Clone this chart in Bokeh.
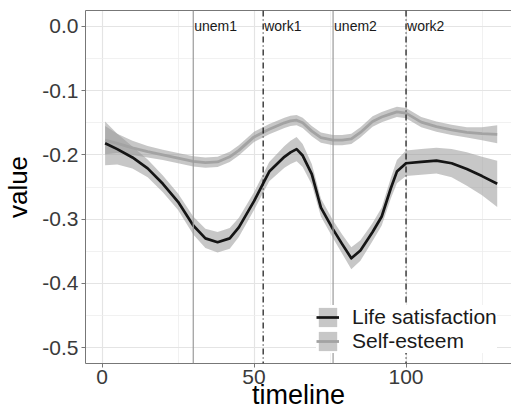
from bokeh.plotting import figure
from bokeh.models import (ColumnDataSource, FixedTicker, LinearAxis, Span, Legend,
                          LegendItem, Range1d)
from bokeh.core.properties import value
from bokeh.embed import file_html
from bokeh.resources import INLINE

# ---- data ----
timeline = [1, 5, 10, 15, 20, 25, 30, 34, 38, 42, 45, 50, 55, 60, 62, 64, 66, 69, 72,
            76, 79, 82, 85, 89, 92, 95, 97, 100, 105, 110, 115, 120, 125, 130]
life_sat = [-0.182, -0.191, -0.204, -0.221, -0.245, -0.273, -0.310, -0.330, -0.336,
            -0.330, -0.313, -0.272, -0.226, -0.203, -0.196, -0.191, -0.201, -0.230,
            -0.282, -0.316, -0.339, -0.361, -0.349, -0.320, -0.296, -0.252, -0.226,
            -0.213, -0.211, -0.209, -0.213, -0.222, -0.233, -0.245]
life_sat_se = [0.034, 0.024, 0.017, 0.014, 0.013, 0.013, 0.014, 0.015, 0.016, 0.016,
               0.015, 0.014, 0.015, 0.017, 0.018, 0.019, 0.018, 0.016, 0.014, 0.014,
               0.015, 0.017, 0.016, 0.014, 0.014, 0.016, 0.018, 0.020, 0.020, 0.020,
               0.022, 0.026, 0.030, 0.036]
self_est = [-0.177, -0.182, -0.189, -0.195, -0.200, -0.205, -0.210, -0.212, -0.211,
            -0.203, -0.193, -0.172, -0.160, -0.150, -0.147, -0.146, -0.150, -0.163,
            -0.173, -0.177, -0.177, -0.175, -0.165, -0.148, -0.141, -0.136, -0.133,
            -0.135, -0.149, -0.156, -0.161, -0.165, -0.167, -0.168]
self_est_se = [0.022, 0.015, 0.011, 0.009, 0.008, 0.008, 0.008, 0.008, 0.008, 0.008,
               0.008, 0.008, 0.008, 0.008, 0.008, 0.008, 0.008, 0.008, 0.008, 0.008,
               0.008, 0.008, 0.008, 0.008, 0.008, 0.008, 0.008, 0.008, 0.008, 0.008,
               0.008, 0.008, 0.010, 0.014]
series_names = ["Life satisfaction", "Self-esteem"]

event_t = [30, 53, 76, 100]
event_labels = ["unem1", "work1", "unem2", "work2"]
event_kind = ["unem", "work", "unem", "work"]

x_ticks = [0, 50, 100]
x_minor = [25, 75, 125]
y_ticks = [0.0, -0.1, -0.2, -0.3, -0.4, -0.5]
y_tick_labels = ["0.0", "-0.1", "-0.2", "-0.3", "-0.4", "-0.5"]
y_minor = [-0.05, -0.15, -0.25, -0.35, -0.45]

FONT = "Liberation Sans"

src_ls = ColumnDataSource(dict(
    t=timeline, v=life_sat,
    lo=[a - b for a, b in zip(life_sat, life_sat_se)],
    hi=[a + b for a, b in zip(life_sat, life_sat_se)]))
src_se = ColumnDataSource(dict(
    t=timeline, v=self_est,
    lo=[a - b for a, b in zip(self_est, self_est_se)],
    hi=[a + b for a, b in zip(self_est, self_est_se)]))

p = figure(width=511, height=418, output_backend="svg", toolbar_location=None,
           x_range=Range1d(-5.45, 134.7), y_range=Range1d(-0.5249, 0.0249),
           min_border_left=83, min_border_top=10, min_border_bottom=55,
           min_border_right=0)
p.outline_line_color = None
p.background_fill_color = "white"
p.border_fill_color = "white"

# grid
for g in (p.xgrid, p.ygrid):
    g.grid_line_color = "#E4E4E4"
    g.grid_line_width = 1.2
    g.minor_grid_line_color = "#EEEEEE"
    g.minor_grid_line_width = 0.8

p.xaxis.ticker = FixedTicker(ticks=x_ticks, minor_ticks=x_minor)
p.yaxis.ticker = FixedTicker(ticks=y_ticks, minor_ticks=y_minor)
p.xgrid.ticker = FixedTicker(ticks=x_ticks, minor_ticks=x_minor)
p.ygrid.ticker = FixedTicker(ticks=y_ticks, minor_ticks=y_minor)
p.yaxis.major_label_overrides = {t: l for t, l in zip(y_ticks, y_tick_labels)}

for ax in (p.xaxis[0], p.yaxis[0]):
    ax.axis_line_color = "#777777"
    ax.axis_line_width = 1
    ax.major_tick_line_color = "#777777"
    ax.major_tick_out = 4
    ax.major_tick_in = 0
    ax.minor_tick_out = 0
    ax.minor_tick_in = 0
    ax.major_label_text_font = FONT
    ax.major_label_text_font_size = "21px"
    ax.major_label_text_color = "#3A3A3A"
    ax.axis_label_text_font = FONT
    ax.axis_label_text_font_style = "normal"
    ax.axis_label_text_color = "#000000"

p.xaxis.axis_label = "timeline"
p.xaxis.axis_label_text_font_size = "27px"
p.xaxis.major_label_standoff = 2
p.xaxis.axis_label_standoff = -7
p.yaxis.axis_label = "value"
p.yaxis.axis_label_text_font_size = "26px"
p.yaxis.major_label_standoff = 3
p.yaxis.axis_label_standoff = 6

# top border
top = LinearAxis(ticker=FixedTicker(ticks=[]), axis_line_color="#777777",
                 major_tick_out=0, major_tick_in=0, minor_tick_out=0, minor_tick_in=0,
                 major_label_text_font_size="0px", major_label_standoff=0)
p.add_layout(top, "above")

# ribbons and lines
b1 = p.varea(x="t", y1="lo", y2="hi", source=src_ls, fill_color="#999999", fill_alpha=0.55)
b2 = p.varea(x="t", y1="lo", y2="hi", source=src_se, fill_color="#999999", fill_alpha=0.55)
l1 = p.line("t", "v", source=src_ls, line_color="#151515", line_width=2.7,
            line_join="round")
l2 = p.line("t", "v", source=src_se, line_color="#A3A3A3", line_width=2.8,
            line_join="round")

# event lines
for t, k in zip(event_t, event_kind):
    if k == "unem":
        s = Span(location=t, dimension="height", line_color="#9A9A9A", line_width=1.2)
    else:
        s = Span(location=t, dimension="height", line_color="#111111", line_width=1.2,
                 line_dash="6 3 1 3")
    p.add_layout(s)

p.text(x=event_t, y=[0.0] * len(event_t), text=event_labels,
       text_font=value(FONT), text_font_size="14px", text_color="#1A1A1A",
       text_align="left", text_baseline="middle", x_offset=1)

legend = Legend(items=[LegendItem(label=series_names[0], renderers=[b1, l1]),
                       LegendItem(label=series_names[1], renderers=[b2, l2])],
                location=(231, 10), padding=0, margin=0, spacing=0,
                glyph_width=23, glyph_height=24, label_height=24, label_standoff=13,
                label_text_font=FONT, label_text_font_size="21px",
                label_text_color="#1A1A1A", background_fill_color="white",
                background_fill_alpha=1.0, border_line_color=None)
p.add_layout(legend)

open("out.html", "w").write(file_html(p, INLINE))
